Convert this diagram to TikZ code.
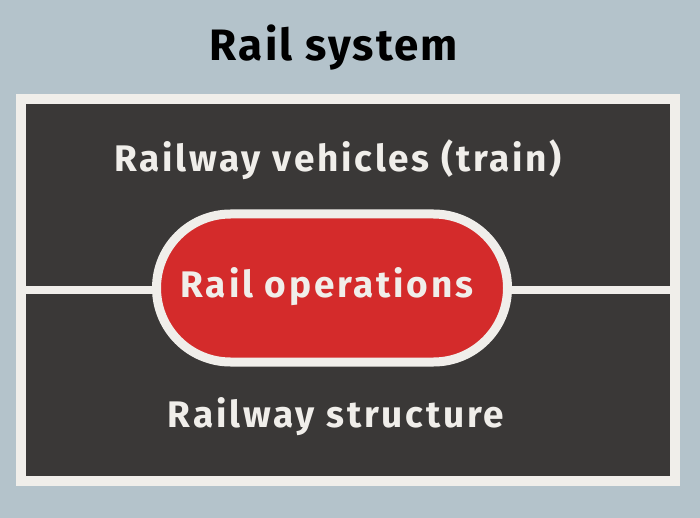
\documentclass[tikz,border=0pt]{standalone}
\usepackage{fontspec}
\setmainfont{Fira Sans}
\newfontfamily\titlefont[LetterSpace=5]{Fira Sans}
\newfontfamily\lblfont[LetterSpace=7.5]{Fira Sans}
\usetikzlibrary{shapes.misc}
\definecolor{bg}{HTML}{B4C3CB}
\definecolor{panel}{HTML}{3A3837}
\definecolor{railred}{HTML}{D42B2B}
\definecolor{paper}{HTML}{F0EEEA}
\tikzset{
  lbl/.style={text=paper, font=\lblfont\fontsize{37}{40}\selectfont\bfseries, inner sep=0pt},
}
\begin{document}
\begin{tikzpicture}[x=1pt,y=-1pt]
\fill[bg] (0,0) rectangle (700,518);
\useasboundingbox (0,0) rectangle (700,518);
\node[font=\titlefont\fontsize{44}{48}\selectfont\bfseries, text=black, inner sep=0pt] (title) at (334,48) {Rail system};
\node[draw=paper, line width=10pt, fill=panel, minimum width=654pt, minimum height=382pt, inner sep=0pt] (panel) at (348,290) {};
\coordinate (L) at (panel.west);
\coordinate (R) at (panel.east);
\draw[paper, line width=8pt] (L) -- (R);
\node[draw=paper, line width=9pt, fill=railred, rounded rectangle, minimum width=351pt, minimum height=148pt, inner sep=0pt] (ops) at (332,288) {};
\node[lbl] (opsl) at (327,287) {Rail operations};
\node[lbl] (veh) at (338,160) {Railway vehicles (train)};
\node[lbl] (str) at (336,417) {Railway structure};
\end{tikzpicture}
\end{document}
